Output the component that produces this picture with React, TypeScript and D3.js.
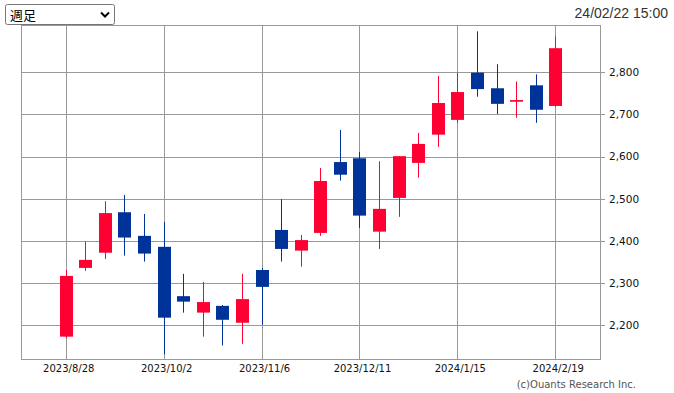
import * as d3 from 'd3'

const weeks = [
  '2023-08-28', '2023-09-04', '2023-09-11', '2023-09-18', '2023-09-25',
  '2023-10-02', '2023-10-09', '2023-10-16', '2023-10-23', '2023-10-30',
  '2023-11-06', '2023-11-13', '2023-11-20', '2023-11-27', '2023-12-04',
  '2023-12-11', '2023-12-18', '2023-12-25', '2024-01-01', '2024-01-08',
  '2024-01-15', '2024-01-22', '2024-01-29', '2024-02-05', '2024-02-12',
  '2024-02-19',
]
const opens = [2173, 2336, 2372, 2468, 2412, 2386, 2269, 2230, 2246, 2206, 2331, 2426, 2377, 2419, 2587, 2596, 2422, 2502, 2585, 2652, 2687, 2799, 2762, 2730, 2769, 2720]
const highs = [2331, 2398, 2494, 2509, 2464, 2445, 2322, 2303, 2248, 2322, 2336, 2499, 2414, 2573, 2663, 2611, 2589, 2601, 2656, 2791, 2799, 2897, 2819, 2778, 2795, 2885]
const lows = [2169, 2329, 2357, 2365, 2351, 2131, 2230, 2173, 2152, 2156, 2201, 2351, 2339, 2412, 2543, 2431, 2381, 2457, 2550, 2623, 2680, 2742, 2701, 2692, 2680, 2718]
const closes = [2317, 2355, 2466, 2408, 2370, 2218, 2256, 2255, 2213, 2262, 2291, 2381, 2402, 2542, 2557, 2460, 2476, 2601, 2630, 2727, 2753, 2760, 2725, 2734, 2711, 2857]

const xTickDates = ['2023-08-28', '2023-10-02', '2023-11-06', '2023-12-11', '2024-01-15', '2024-02-19']
const xTickLabels = ['2023/8/28', '2023/10/2', '2023/11/6', '2023/12/11', '2024/1/15', '2024/2/19']
const yTicks = [2200, 2300, 2400, 2500, 2600, 2700, 2800]

const W = 674
const H = 393
const plot = { left: 21, right: 600, top: 25, bottom: 359 }
const UP = '#ff0033'
const DOWN = '#003399'
const GRID = '#999999'

const parse = (s: string) => {
  const [y, m, d] = s.split('-').map(Number)
  return new Date(y, m - 1, d)
}

export default function App() {
  const dates = weeks.map(parse)
  const x = d3
    .scaleTime()
    .domain([d3.timeDay.offset(dates[0], -16), d3.timeDay.offset(dates[dates.length - 1], 16)])
    .range([plot.left, plot.right])
  const y = d3.scaleLinear().domain([2120, 2912]).range([plot.bottom, plot.top])
  const fmt = d3.format(',')
  const bodyW = 13
  const px = (v: number) => Math.round(v) + 0.5

  return (
    <svg
      width={W}
      height={H}
      style={{ position: 'absolute', left: 0, top: 0, background: '#fff' }}
    >
      {/* grid */}
      {yTicks.map((t) => (
        <line
          key={'h' + t}
          x1={plot.left}
          x2={plot.right + 5}
          y1={px(y(t))}
          y2={px(y(t))}
          stroke={GRID}
          strokeWidth={1}
        />
      ))}
      {xTickDates.map((d) => (
        <line
          key={'v' + d}
          x1={px(x(parse(d)))}
          x2={px(x(parse(d)))}
          y1={plot.top}
          y2={plot.bottom}
          stroke={GRID}
          strokeWidth={1}
        />
      ))}
      <rect
        x={plot.left + 0.5}
        y={plot.top + 0.5}
        width={plot.right - plot.left}
        height={plot.bottom - plot.top}
        fill="none"
        stroke={GRID}
        strokeWidth={1}
      />

      {/* candles */}
      {dates.map((d, i) => {
        const cx = px(x(d))
        const up = closes[i] >= opens[i]
        const color = up ? UP : DOWN
        const top = y(Math.max(opens[i], closes[i]))
        const bot = y(Math.min(opens[i], closes[i]))
        return (
          <g key={weeks[i]}>
            <line x1={cx} x2={cx} y1={y(highs[i])} y2={y(lows[i])} stroke={color} strokeWidth={1} />
            <rect
              x={Math.round(cx - bodyW / 2)}
              y={top}
              width={bodyW}
              height={Math.max(1.5, bot - top)}
              fill={color}
            />
          </g>
        )
      })}

      {/* y labels */}
      {yTicks.map((t) => (
        <text
          key={'yl' + t}
          x={609}
          y={y(t)}
          dy="0.36em"
          fontFamily="DejaVu Sans"
          fontSize={10.5}
          fill="#111"
        >
          {fmt(t)}
        </text>
      ))}

      {/* x labels */}
      {xTickDates.map((d, i) => (
        <text
          key={'xl' + d}
          x={x(parse(d)) + 3}
          y={371.5}
          textAnchor="middle"
          fontFamily="DejaVu Sans"
          fontSize={10}
          fill="#111"
        >
          {xTickLabels[i]}
        </text>
      ))}

      <text x={636} y={387.5} textAnchor="end" fontFamily="DejaVu Sans" fontSize={10} fill="#555">
        (c)Ouants Research Inc.
      </text>

      <text
        x={668}
        y={18}
        textAnchor="end"
        fontFamily="Liberation Sans, Arial, sans-serif"
        fontSize={14}
        fill="#333"
      >
        24/02/22 15:00
      </text>

      {/* period selector */}
      <rect x={5.5} y={4.5} width={109} height={20} rx={2} fill="#fff" stroke="#767676" strokeWidth={1} />
      <text x={10} y={19.5} fontFamily="Noto Sans CJK JP" fontSize={13} fill="#000">
        週足
      </text>
      <path d="M101,12.5 L105,16.5 L109,12.5" fill="none" stroke="#000" strokeWidth={2} />
    </svg>
  )
}
